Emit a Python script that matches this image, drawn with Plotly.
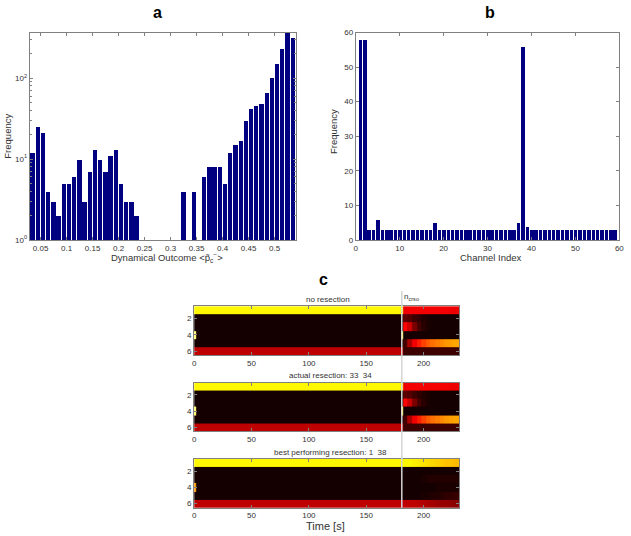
import plotly.graph_objects as go
import math

# ---------------- data ----------------
# panel a: histogram of dynamical outcome (bin centres, counts; None = empty bin)
a_centers = [0.034, 0.044, 0.054, 0.064, 0.074, 0.084, 0.094, 0.104, 0.114, 0.124,
             0.134, 0.144, 0.154, 0.164, 0.174, 0.184, 0.194, 0.204, 0.214, 0.224,
             0.234, 0.244, 0.254, 0.264, 0.274, 0.284, 0.294, 0.304, 0.314, 0.324,
             0.334, 0.344, 0.354, 0.364, 0.374, 0.384, 0.394, 0.404, 0.414, 0.424,
             0.434, 0.444, 0.454, 0.464, 0.474, 0.484, 0.494, 0.504, 0.514, 0.524,
             0.534]
a_counts = [12, 25, 21, 4, 3, 2, 5, 5, 6, 10,
            3, 7, 13, 10, 7, 11, 13, 5, 3, 3,
            2, None, None, None, None, None, None, None, None, 4,
            None, 4, None, 6, 8, 8, 8, 5, 12, 15,
            17, 30, 42, 46, 48, 66, 101, 153, 231, 366,
            321]
a_xtick_vals = [0.05, 0.1, 0.15, 0.2, 0.25, 0.3, 0.35, 0.4, 0.45, 0.5]
a_xtick_text = ["0.05", "0.1", "0.15", "0.2", "0.25", "0.3", "0.35", "0.4", "0.45", "0.5"]

# panel b: frequency per channel
b_channels = list(range(1, 60))
b_freq = [58, 58, 3, 3, 6, 3, 3, 3, 3, 3,
          3, 3, 3, 3, 3, 3, 3, 5, 3, 3,
          3, 3, 3, 3, 3, 3, 3, 3, 3, 3,
          3, 3, 3, 3, 3, 3, 5, 56, 4, 3,
          3, 3, 3, 3, 3, 3, 3, 3, 3, 3,
          3, 3, 3, 3, 3, 3, 3, 3, 3]

# panel c: time-bin edges [s] and channel rows
t_edges = [0, 1.5, 180, 182.5, 186, 190, 194, 198, 202, 206, 210, 214, 218, 222, 226, 231]
rows = [1, 2, 3, 4, 5, 6]
t_resect = 181

no_res_r1 = [0.74, 0.74, 0.74, 0.35, 0.36, 0.36, 0.36, 0.36, 0.36, 0.36, 0.36, 0.36, 0.36, 0.35, 0.35]
no_res_r2 = [0.03, 0.03, 0.03, 0.14, 0.12, 0.09, 0.07, 0.05, 0.04, 0.03, 0.03, 0.03, 0.03, 0.03, 0.03]
no_res_r3 = [0.03, 0.03, 0.03, 0.38, 0.30, 0.18, 0.10, 0.06, 0.04, 0.03, 0.03, 0.03, 0.03, 0.03, 0.03]
no_res_r4 = [0.86, 0.03, 0.82, 0.03, 0.03, 0.03, 0.03, 0.03, 0.03, 0.03, 0.03, 0.03, 0.03, 0.03, 0.03]
no_res_r5 = [0.03, 0.03, 0.03, 0.10, 0.25, 0.36, 0.42, 0.47, 0.51, 0.54, 0.56, 0.58, 0.60, 0.61, 0.62]
no_res_r6 = [0.28, 0.28, 0.28, 0.09, 0.09, 0.09, 0.09, 0.09, 0.09, 0.09, 0.09, 0.09, 0.09, 0.09, 0.09]

act_res_r1 = [0.74, 0.74, 0.74, 0.35, 0.36, 0.36, 0.36, 0.36, 0.36, 0.36, 0.36, 0.36, 0.36, 0.35, 0.35]
act_res_r2 = [0.03, 0.03, 0.03, 0.14, 0.12, 0.09, 0.07, 0.05, 0.04, 0.03, 0.03, 0.03, 0.03, 0.03, 0.03]
act_res_r3 = [0.03, 0.03, 0.03, 0.38, 0.30, 0.18, 0.10, 0.06, 0.04, 0.03, 0.03, 0.03, 0.03, 0.03, 0.03]
act_res_r4 = [0.86, 0.03, 0.82, 0.03, 0.03, 0.03, 0.03, 0.03, 0.03, 0.03, 0.03, 0.03, 0.03, 0.03, 0.03]
act_res_r5 = [0.03, 0.03, 0.03, 0.10, 0.25, 0.36, 0.42, 0.47, 0.51, 0.54, 0.56, 0.58, 0.60, 0.61, 0.62]
act_res_r6 = [0.28, 0.28, 0.28, 0.09, 0.09, 0.09, 0.09, 0.09, 0.09, 0.09, 0.09, 0.09, 0.09, 0.09, 0.09]

best_res_r1 = [0.74, 0.74, 0.74, 0.74, 0.74, 0.73, 0.72, 0.71, 0.70, 0.69, 0.68, 0.67, 0.66, 0.66, 0.65]
best_res_r2 = [0.03, 0.03, 0.03, 0.03, 0.03, 0.03, 0.03, 0.03, 0.03, 0.03, 0.03, 0.03, 0.03, 0.03, 0.03]
best_res_r3 = [0.03, 0.03, 0.03, 0.03, 0.03, 0.03, 0.03, 0.04, 0.05, 0.05, 0.05, 0.05, 0.05, 0.05, 0.05]
best_res_r4 = [0.60, 0.03, 0.03, 0.03, 0.03, 0.03, 0.03, 0.03, 0.03, 0.03, 0.04, 0.04, 0.04, 0.04, 0.04]
best_res_r5 = [0.03, 0.03, 0.03, 0.03, 0.03, 0.03, 0.03, 0.04, 0.04, 0.05, 0.05, 0.06, 0.07, 0.07, 0.08]
best_res_r6 = [0.28, 0.28, 0.28, 0.28, 0.28, 0.28, 0.27, 0.26, 0.25, 0.24, 0.23, 0.22, 0.22, 0.21, 0.20]

c_titles = ["no resection", "actual resection: 33  34", "best performing resection: 1  38"]
c_xticks = [0, 50, 100, 150, 200]
c_yticks = [2, 4, 6]

# ---------------- styling ----------------
W, H = 631, 536
FONT = "Liberation Sans, Arial, sans-serif"
BAR = "#000080"
AXC = "#808080"
TXT = "#333333"
hot = [[0.0, "#000000"], [0.375, "#ff0000"], [0.75, "#ffff00"], [1.0, "#ffffff"]]


def px(x):
    return x / W


def py(y):
    return 1 - y / H


fig = go.Figure()

fig.add_trace(go.Bar(x=a_centers, y=a_counts, width=0.0082, marker=dict(color=BAR, line=dict(width=0)),
                     xaxis="x", yaxis="y", showlegend=False))
fig.add_trace(go.Bar(x=b_channels, y=b_freq, width=0.8, marker=dict(color=BAR, line=dict(width=0)),
                     xaxis="x2", yaxis="y2", showlegend=False))

panels = [
    [no_res_r1, no_res_r2, no_res_r3, no_res_r4, no_res_r5, no_res_r6],
    [act_res_r1, act_res_r2, act_res_r3, act_res_r4, act_res_r5, act_res_r6],
    [best_res_r1, best_res_r2, best_res_r3, best_res_r4, best_res_r5, best_res_r6],
]
for i, z in enumerate(panels):
    fig.add_trace(go.Heatmap(x=t_edges, y=rows, z=z, colorscale=hot, zmin=0, zmax=1,
                             showscale=False, xaxis=f"x{i+3}", yaxis=f"y{i+3}"))

common = dict(showline=True, linecolor=AXC, linewidth=1, mirror="ticks", ticks="inside",
              ticklen=3, tickcolor=AXC, showgrid=False, zeroline=False,
              tickfont=dict(family=FONT, size=8, color=TXT))

fig.update_layout(
    width=W, height=H, autosize=False, margin=dict(l=0, r=0, t=0, b=0),
    plot_bgcolor="white", paper_bgcolor="white", bargap=0,
    font=dict(family=FONT, color=TXT),
    xaxis=dict(domain=[px(28), px(297)], range=[0.029, 0.5405], tickvals=a_xtick_vals,
               ticktext=a_xtick_text, anchor="y", **common),
    yaxis=dict(domain=[py(240), py(29)], type="log", range=[0, math.log10(366)],
               tickvals=[1, 10, 100], ticktext=["10<sup>0</sup>", "10<sup>1</sup>", "10<sup>2</sup>"],
               anchor="x",
               minor=dict(tickvals=[2, 3, 4, 5, 6, 7, 8, 9, 20, 30, 40, 50, 60, 70, 80, 90, 200, 300],
                          ticks="inside", ticklen=2, tickcolor=AXC),
               **common),
    xaxis2=dict(domain=[px(357.7), px(624.3)], range=[0, 60], tickvals=[0, 10, 20, 30, 40, 50, 60],
                anchor="y2", **common),
    yaxis2=dict(domain=[py(240), py(29)], range=[0, 60], tickvals=[0, 10, 20, 30, 40, 50, 60],
                anchor="x2", **common),
)

hm_y = [(307.3, 357.3), (385, 434.7), (462.7, 512.3)]
for i, (top, bot) in enumerate(hm_y):
    n = i + 3
    fig.layout[f"xaxis{n}"] = dict(domain=[px(194.3), px(462.3)], range=[0, 231], tickvals=c_xticks,
                                   anchor=f"y{n}", **common)
    fig.layout[f"yaxis{n}"] = dict(domain=[py(bot), py(top)], range=[6.5, 0.5], tickvals=c_yticks,
                                   anchor=f"x{n}", **common)

fig.add_shape(type="line", xref="x3", yref="paper", x0=t_resect, x1=t_resect,
              y0=py(512.3), y1=py(292), line=dict(color="#d4d4d4", width=1.5), layer="above")

ann = []


def add(text, x, y, size, bold=False, angle=0, xanchor="center", color=TXT):
    ann.append(dict(text=f"<b>{text}</b>" if bold else text, x=px(x), y=py(y), xref="paper", yref="paper",
                    showarrow=False, textangle=angle, xanchor=xanchor, yanchor="middle",
                    font=dict(family=FONT, size=size, color=color)))


add("a", 157, 9, 16, bold=True, color="#000000")
add("b", 493, 9, 16, bold=True, color="#000000")
add("c", 325.5, 280, 16, bold=True, color="#000000")
add("Frequency", 6, 134, 9.5, angle=-90)
add("Frequency", 336, 130, 9.5, angle=-90)
add("Dynamical Outcome &lt;p̃<sub>c</sub><sup>−</sup>&gt;", 167, 258, 9.5)
add("Channel Index", 494.5, 258, 9.5)
add(c_titles[0], 330, 300.5, 8)
add(c_titles[1], 331.7, 378.3, 8)
add(c_titles[2], 332.5, 456, 8)
add("n<sub>crso</sub>", 404.5, 298, 8, xanchor="left")
add("Time [s]", 326.7, 530.5, 11)
fig.update_layout(annotations=ann)

fig.write_html("out.html", config={"displayModeBar": False},
               post_script="document.body.style.margin='0';document.body.style.padding='0';"
                           "document.documentElement.style.overflow='hidden';")
